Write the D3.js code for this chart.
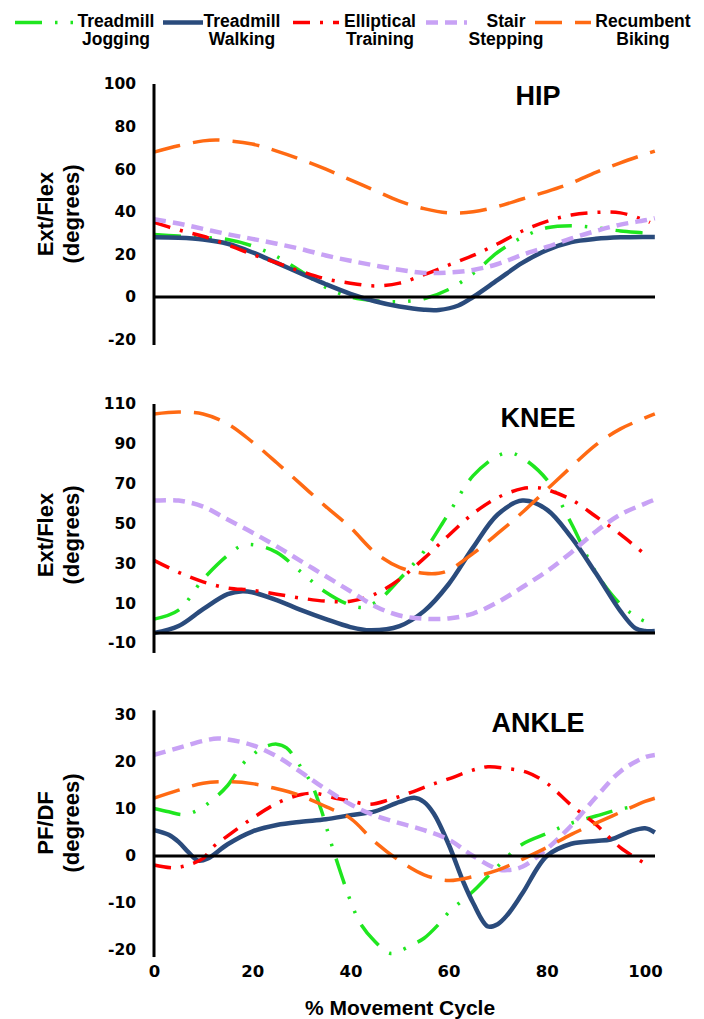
<!DOCTYPE html>
<html>
<head>
<meta charset="utf-8">
<script src="https://cdn.jsdelivr.net/npm/d3@7"></script>
<style>
  body { margin: 0; background: #fff; }
  svg { display: block; font-family: "Liberation Sans", Arial, sans-serif; }
</style>
</head>
<body>
<div id="chart"></div>
<script>
// legend / series names (two text lines each)
const modeNames = [
  ["Treadmill", "Jogging"],
  ["Treadmill", "Walking"],
  ["Elliptical", "Training"],
  ["Stair", "Stepping"],
  ["Recumbent", "Biking"]
];

const xTicks = [0, 20, 40, 60, 80, 100];
const hipTicks = [-20, 0, 20, 40, 60, 80, 100];
const kneeTicks = [-10, 10, 30, 50, 70, 90, 110];
const ankleTicks = [-20, -10, 0, 10, 20, 30];

// [% movement cycle, degrees]
const hipJogging = [[0,29.3],[5,28.6],[10,28],[15,27],[20,24],[25,19],[30,12],[35,4.5],[40,0],[45,-1.8],[50,-2.2],[55,-0.8],[60,3.5],[65,11],[70,21],[75,28],[80,32.5],[85,33.5],[90,32.5],[95,31],[100,30],[102,29.5]];
const hipWalking = [[0,28],[5,27.8],[10,27],[15,25],[20,21],[25,16],[30,11],[35,6],[40,1.5],[45,-2],[50,-4.5],[55,-6],[58,-6.1],[62,-4],[65,0],[70,8],[75,16],[80,22],[85,25.8],[90,27.3],[95,28],[100,28.2],[102,28.2]];
const hipElliptical = [[0,35],[5,31.5],[10,28.5],[15,24.5],[20,20],[25,16],[30,12],[35,8.5],[40,6.5],[45,5.2],[50,6.5],[55,10.5],[60,15],[65,19.5],[70,25],[75,31],[80,35.5],[85,38.5],[90,39.7],[95,39.5],[100,36],[101,35]];
const hipStair = [[0,36.5],[5,34.5],[10,32],[15,29.5],[20,27.3],[25,25],[30,22.5],[35,19.5],[40,17],[45,14.8],[50,12.8],[55,11.3],[60,11.5],[65,12.7],[70,15.5],[75,19.8],[80,23.5],[85,27.5],[90,31],[95,34],[100,36],[102,37]];
const hipBiking = [[0,68],[5,71],[10,73.3],[13,73.7],[20,71.8],[25,68.5],[30,64.5],[35,60],[40,55],[45,50],[50,45],[55,41.5],[60,39.5],[65,40],[70,42.5],[75,46],[80,49.5],[85,53.5],[90,58.5],[95,63],[100,67],[102,68.5]];

const kneeJogging = [[0,2],[5,6.5],[10,22],[15,34],[18,39],[21,39],[25,35.5],[30,25.5],[35,15.5],[40,9],[43,8],[46,12],[50,22],[55,36],[60,55],[65,74],[70,84],[72.5,85.5],[75,83],[80,72],[85,50],[90,25.5],[95,9.5],[99,2],[101,0]];
const kneeWalking = [[0,-5],[5,-1.5],[10,7],[15,14.5],[18,16],[20,15.5],[25,11.5],[30,6.5],[35,2],[40,-2],[44,-3.6],[50,-1.5],[55,6],[60,19.5],[65,38],[70,54.5],[75,61.5],[80,57],[85,43],[90,25],[95,6],[98,-2.5],[100,-4],[102,-4]];
const kneeElliptical = [[0,31.5],[5,25.5],[10,20.7],[15,17.6],[20,16.5],[25,14.5],[30,12.5],[35,11],[40,11],[45,14.5],[50,22],[55,32.5],[60,44],[65,55],[70,63],[75,67.5],[78,68],[80,67],[85,62],[90,53.5],[95,44.5],[100,34.5]];
const kneeStair = [[0,61.5],[5,61.5],[10,58.5],[15,52],[20,45.5],[25,38.5],[30,31],[35,23.5],[40,16],[45,8.5],[50,3.8],[55,2.2],[60,2.3],[65,4.8],[70,10.5],[75,18],[80,26],[85,35.5],[90,46],[95,54.5],[100,60],[102,62]];
const kneeBiking = [[0,105],[5,106],[10,105],[15,100],[20,91],[25,80.5],[30,69.5],[35,58.5],[40,48],[45,35.5],[50,28],[55,25],[58,25],[60,26.5],[65,35],[70,45],[75,55.5],[80,67],[85,78.5],[90,89.5],[95,97.5],[100,103],[102,105]];

const ankleJogging = [[0,10.1],[3,9.4],[6,8.8],[9,9.8],[12,12],[15,15],[18,19.5],[20,21.4],[22,23],[25,23.8],[27,23],[30,18.8],[32,15.5],[34,10],[36,3],[38,-3.5],[40,-9.5],[42,-14.3],[45,-18.2],[48,-20.7],[50,-20.2],[53,-18.7],[55,-17.5],[58,-14.5],[60,-12],[65,-7.5],[70,-2.2],[75,2.5],[80,4.8],[85,7],[90,8.5],[95,10],[99,10.7]];
const ankleWalking = [[0,5.5],[3,4.5],[5,3],[7,0.8],[9,-1],[11,-0.5],[15,2.5],[20,5.2],[25,6.6],[30,7.3],[35,7.8],[40,8.7],[45,9.5],[50,11.5],[53,12.4],[55,11.5],[57,9],[60,2.5],[63,-5.5],[65,-10],[68,-15],[70,-14.5],[72,-12.5],[75,-8],[80,0],[85,2.6],[90,3.2],[93,3.5],[97,5.2],[100,5.9],[102,5]];
const ankleElliptical = [[0,-1.9],[4,-2.5],[7,-1.9],[10,-0.5],[12,1.9],[15,4.3],[20,8],[25,11.2],[30,13.1],[33,13.3],[37,12.3],[40,11.7],[44,11],[48,12],[52,13.4],[56,15],[60,16.4],[65,18.3],[68,19],[72,18.6],[76,17.8],[80,15.5],[85,10.8],[90,6.7],[95,1.8],[100,-1.6]];
const ankleStair = [[0,21.5],[5,23],[10,24.5],[13,25],[15,24.8],[20,23.6],[25,21.2],[30,17.8],[35,14.2],[40,11],[45,8.6],[50,7],[55,5.5],[60,3.5],[65,0],[70,-2.8],[72,-3],[75,-2.3],[80,1.5],[85,6.5],[90,12.5],[95,18],[100,21],[102,21.5]];
const ankleBiking = [[0,12.3],[5,14],[10,15.5],[15,15.8],[20,15.4],[25,14.3],[30,12.8],[35,10.5],[40,8],[45,3],[50,-1],[55,-4],[60,-5.2],[65,-4.4],[70,-3],[75,-0.7],[80,1.8],[85,4.6],[90,7],[95,9.3],[100,11.6],[102,12.3]];

const width = 704, height = 1019;
const font = '"Liberation Sans", Arial, sans-serif';
const tickFont = '"DejaVu Sans", sans-serif';

// line styles, same order as modeNames
const styles = [
  { color: "#1fe61f", w: 3.5, dash: "27,13,2.5,13,2.5,13" },
  { color: "#2a4b7c", w: 4.5, dash: null },
  { color: "#ff0000", w: 3.5, dash: "17,10,3,10" },
  { color: "#c8a2f5", w: 4.5, dash: "12,7" },
  { color: "#ff6a13", w: 3.5, dash: "27,13" }
];

const panels = [
  { title: "HIP", ylab: ["Ext/Flex", "(degrees)"], ticks: hipTicks, tickPx: [339.6, 84], ext: [-22.5, 100], base: 0,
    titleY: 105, labY: 214, series: [hipJogging, hipWalking, hipElliptical, hipStair, hipBiking] },
  { title: "KNEE", ylab: ["Ext/Flex", "(degrees)"], ticks: kneeTicks, tickPx: [643, 404], ext: [-15, 110], base: -5,
    titleY: 427, labY: 535, series: [kneeJogging, kneeWalking, kneeElliptical, kneeStair, kneeBiking] },
  { title: "ANKLE", ylab: ["PF/DF", "(degrees)"], ticks: ankleTicks, tickPx: [950, 715], ext: [-21.5, 31], base: 0,
    titleY: 732, labY: 823, series: [ankleJogging, ankleWalking, ankleElliptical, ankleStair, ankleBiking] }
];

const svg = d3.select("#chart").append("svg")
  .attr("width", width)
  .attr("height", height);

const x = d3.scaleLinear().domain([0, 100]).range([154, 645]);
const xEnd = 655;

const line = d3.line().curve(d3.curveCatmullRom.alpha(0.5));

panels.forEach((p, pi) => {
  const lo = p.ticks[0], hi = p.ticks[p.ticks.length - 1];
  const y = d3.scaleLinear().domain([lo, hi]).range(p.tickPx);

  // tick labels
  const ax = svg.append("g")
    .attr("transform", "translate(" + x(0) + ",0)")
    .call(d3.axisLeft(y).tickValues(p.ticks).tickSize(0).tickPadding(18).tickFormat(d => String(d)));
  ax.select(".domain").remove();
  ax.attr("font-family", tickFont).attr("font-size", 15.5).attr("font-weight", "bold");
  ax.selectAll("text").attr("fill", "#000");

  // series
  p.series.forEach((data, i) => {
    const s = styles[i];
    svg.append("path")
      .datum(data)
      .attr("fill", "none")
      .attr("stroke", s.color)
      .attr("stroke-width", s.w)
      .attr("stroke-dasharray", s.dash)
      .attr("d", line.x(d => x(d[0])).y(d => y(d[1])));
  });

  // baseline and vertical axis
  svg.append("line")
    .attr("x1", x(0)).attr("x2", xEnd)
    .attr("y1", y(p.base)).attr("y2", y(p.base))
    .attr("stroke", "#000").attr("stroke-width", 3);
  svg.append("line")
    .attr("x1", x(0)).attr("x2", x(0))
    .attr("y1", y(p.ext[1])).attr("y2", y(p.ext[0]))
    .attr("stroke", "#000").attr("stroke-width", 3);

  svg.append("text")
    .attr("x", 538).attr("y", p.titleY)
    .attr("text-anchor", "middle")
    .attr("font-size", 27).attr("font-weight", "bold")
    .text(p.title);

  const lab = svg.append("text")
    .attr("transform", "translate(53," + p.labY + ") rotate(-90)")
    .attr("text-anchor", "middle")
    .attr("font-size", 22).attr("font-weight", "bold");
  lab.append("tspan").attr("x", 0).attr("dy", 0).text(p.ylab[0]);
  lab.append("tspan").attr("x", 0).attr("dy", 26).text(p.ylab[1]);

  if (pi === panels.length - 1) {
    const xa = svg.append("g")
      .attr("transform", "translate(0,957)")
      .call(d3.axisBottom(x).tickValues(xTicks).tickSize(0).tickPadding(8).tickFormat(d => String(d)));
    xa.select(".domain").remove();
    xa.attr("font-family", tickFont).attr("font-size", 16.5).attr("font-weight", "bold");
    xa.selectAll("text").attr("fill", "#000");
  }
});

svg.append("text")
  .attr("x", 400).attr("y", 1015)
  .attr("text-anchor", "middle")
  .attr("font-size", 21).attr("font-weight", "bold")
  .text("% Movement Cycle");

// legend
const legendX = [15, 163, 293, 426, 535];
const legendW = [58, 40, 46, 41, 56];
const legendText = [116, 242, 380, 506, 643];
const legend = svg.append("g").attr("font-size", 17.5).attr("font-weight", "bold");
modeNames.forEach((names, i) => {
  const s = styles[i];
  legend.append("line")
    .attr("x1", legendX[i]).attr("x2", legendX[i] + legendW[i])
    .attr("y1", 22.5).attr("y2", 22.5)
    .attr("stroke", s.color)
    .attr("stroke-width", s.w)
    .attr("stroke-dasharray", s.dash);
  const t = legend.append("text").attr("text-anchor", "middle");
  t.append("tspan").attr("x", legendText[i]).attr("y", 27).text(names[0]);
  t.append("tspan").attr("x", legendText[i]).attr("y", 45).text(names[1]);
});
</script>
</body>
</html>
